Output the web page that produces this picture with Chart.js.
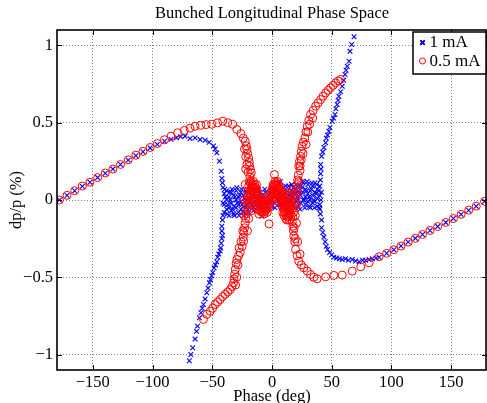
<!DOCTYPE html>
<html>
<head>
<meta charset="utf-8">
<script src="https://cdn.jsdelivr.net/npm/chart.js@4/dist/chart.umd.min.js"></script>
<style>
  html, body { margin: 0; padding: 0; background: #fff; }
</style>
</head>
<body>
<canvas id="chart" width="487" height="403"></canvas>
<script>
// labels
const chartTitle = 'Bunched Longitudinal Phase Space';
const seriesNames = ['1 mA', '0.5 mA'];
const xTicks = [-150, -100, -50, 0, 50, 100, 150];
const yTicks = [-1, -0.5, 0, 0.5, 1];

// 1 mA  ([phase deg, dp/p %]), branch by branch
const blueLeftArm = [[-178,0.0],[-171.6,0.03],[-165.2,0.06],[-158.8,0.088],[-152.4,0.115],[-146,0.145],
  [-139.6,0.173],[-133.2,0.2],[-126.8,0.23],[-120.4,0.258],[-114,0.287],[-108,0.312],[-102,0.337],
  [-96,0.36],[-90,0.38],[-84.5,0.393],[-80,0.403],[-76.5,0.41],[-72.8,0.413],[-68.6,0.397],[-64.4,0.402],
  [-60.2,0.391],[-56,0.387],[-52.6,0.374],[-49,0.35],[-47.5,0.33],[-46.2,0.305],[-44,0.251],[-42.5,0.186],
  [-42,0.14],[-41.5,0.111],[-41,0.08]];
const blueLowerLeft = [[-69.2,-1.04],[-68,-1.0],[-66.4,-0.956],[-64.4,-0.9],[-63.2,-0.85],[-62.4,-0.816],
  [-60.8,-0.762],[-59.5,-0.73],[-58.4,-0.7],[-57.4,-0.676],[-56,-0.64],[-54.6,-0.6],[-53.5,-0.57],
  [-52.4,-0.536],[-51.5,-0.515],[-50.5,-0.49],[-49.6,-0.47],[-48.5,-0.44],[-47.4,-0.42],[-46.2,-0.4],
  [-45.5,-0.37],[-44.5,-0.35],[-43.4,-0.33],[-43,-0.31],[-42.5,-0.28],[-42,-0.25],[-41.4,-0.23],
  [-42,-0.2],[-42,-0.17],[-41.5,-0.13],[-41,-0.1]];
const blueCore = [[-40,0.04],[-40,-0.03],[-40,-0.08],[-38,0.06],[-38,0.0],[-38,-0.06],[-36,0.02],[-36,-0.05],
  [-36,-0.1],[-34,0.05],[-34,-0.02],[-34,-0.07],[-32,0.03],[-32,-0.04],[-32,-0.09],[-30,0.06],[-30,0.0],
  [-30,-0.05],[-28,0.02],[-28,-0.03],[-28,-0.08],[-26,0.05],[-26,-0.01],[-26,-0.06],[-24,0.03],[-24,-0.04],
  [-24,-0.08],[-22,0.06],[-22,0.0],[-22,-0.05],[-20,0.02],[-20,-0.06],[-18,0.05],[-18,-0.02],[-16,0.03],
  [-16,-0.05],[-14,0.06],[-14,-0.01],[-12,0.02],[-12,-0.04],[-10,0.05],[-10,-0.02],[-8.4,-0.105],[-8,0.03],
  [-8,-0.05],[-6,0.07],[-6,0.0],[-4,0.02],[-4,-0.04],[-2,0.05],[-2,-0.01],[0,0.08],[0,0.01],[0,-0.04],
  [2,0.04],[2,-0.02],[4,0.07],[4,0.0],[5.6,0.11],[6,0.03],[6,-0.03],[7,0.12],[8,0.06],[8,0.01],[10,0.08],
  [10,0.02],[10,-0.03],[12,0.05],[12,0.0],[14,0.09],[14,0.03],[14,-0.02],[16,0.06],[16,0.01],[18,0.08],
  [18,0.02],[18,-0.03],[20,0.1],[20,0.04],[20,-0.01],[22,0.06],[22,0.0],[22,-0.04],[24,0.09],[24,0.03],
  [24,-0.02],[26,0.11],[26,0.05],[26,0.0],[28,0.07],[28,0.02],[28,-0.03],[30,0.1],[30,0.04],[30,-0.01],
  [32,0.06],[32,0.0],[32,-0.05],[34,0.09],[34,0.03],[34,-0.02],[36,0.11],[36,0.05],[36,-0.01],[38,0.07],
  [38,0.01],[38,-0.04],[40,0.09],[40,0.03],[40,-0.03],
  [-41,-0.02],[-39,0.02],[-37,-0.03],[-35,0.0],[-33,-0.06],[-31,0.02],[-29,-0.02],[-27,0.03],[-25,-0.03],
  [-23,0.01],[-21,-0.03],[-19,0.01],[-17,-0.03],[-15,0.02],[-13,-0.02],[-11,0.01],[-9,-0.03],[-7,0.02],
  [-5,-0.02],[-3,0.03],[-1,-0.02],[1,0.04],[3,0.02],[5,0.0],[7,0.05],[9,0.03],[11,-0.01],[13,0.06],
  [15,0.0],[17,0.04],[19,0.07],[21,0.02],[23,0.05],[25,0.08],[27,0.0],[29,0.06],[31,0.02],[33,0.07],
  [35,0.0],[37,0.04],[39,0.06],[41,0.0],
  [-39.5,0.07],[-37.5,-0.09],[-35.5,0.05],[-33.5,0.07],[-31.5,-0.1],[-29.5,0.08],[-27.5,-0.1],[-25.5,0.07],
  [-23.5,-0.1],[-21.5,0.05],[-19.5,-0.08],[-17.5,0.07],[-15.5,-0.07],[-11.5,0.07],[-9.5,-0.07],[-5.5,0.05],
  [-3.5,-0.06],[0.5,0.06],[2.5,-0.05],[4.5,0.09],[8.5,-0.04],[11.5,0.09],[13.5,-0.05],[16.5,0.1],
  [19.5,-0.05],[21.5,0.09],[23.5,-0.06],[25.5,0.12],[27.5,-0.05],[29.5,0.12],[31.5,-0.04],[33.5,0.11],
  [35.5,-0.05],[37.5,0.1],[39.5,-0.05],[41.5,0.05]];
const blueUpperRight = [[40.5,0.13],[40.7,0.17],[41,0.2],[40.7,0.23],[41.5,0.283],[42.5,0.31],[43.5,0.34],
  [44.9,0.37],[45.5,0.4],[46.5,0.42],[47.6,0.445],[48.5,0.47],[50.4,0.51],[51.5,0.53],[52.7,0.553],
  [53.5,0.59],[54.6,0.618],[55.3,0.645],[56,0.671],[57.5,0.7],[58.8,0.736],[60,0.775],[61.1,0.812],
  [62,0.84],[63,0.865],[64.5,0.898],[65.3,0.962],[66.7,1.006],[68.7,1.056]];
const blueLowerRight = [[40,-0.06],[40.5,-0.09],[41.5,-0.13],[41.5,-0.18],[42.5,-0.21],[43.4,-0.24],
  [44.5,-0.27],[45.4,-0.3],[46.5,-0.32],[48.2,-0.34],[50,-0.355],[51.8,-0.37],[54,-0.375],[56.5,-0.38],
  [58.8,-0.385],[61.5,-0.38],[64,-0.39],[67.2,-0.385],[70,-0.395],[72.9,-0.4],[76,-0.39],[78.5,-0.39],
  [81.3,-0.385],[84,-0.38],[87,-0.375],[89.7,-0.37]];
const rightTrack = [[96,-0.345],[102,-0.322],[108,-0.298],[114,-0.272],[120,-0.248],[126,-0.223],
  [132.3,-0.197],[138.7,-0.172],[145.5,-0.145],[151.9,-0.12],[158.3,-0.093],[164.7,-0.066],[171,-0.04],
  [178,-0.008]];

// 0.5 mA
const redLeftArm = [[-178,0.0],[-171.6,0.03],[-165.2,0.06],[-158.8,0.09],[-152.4,0.115],[-146,0.145],
  [-139.6,0.175],[-133.2,0.2],[-126.8,0.23],[-120.4,0.26],[-114,0.29],[-108,0.315],[-102,0.34],
  [-96,0.365],[-90,0.39],[-84.5,0.413],[-79,0.435],[-73.4,0.45],[-68.6,0.465],[-64.4,0.477],
  [-59.7,0.483],[-55.1,0.488],[-50.4,0.49],[-45.6,0.499],[-41.2,0.51],[-37,0.5],[-33,0.49],[-29.4,0.456],
  [-26,0.43],[-24,0.4],[-22.4,0.38],[-21.5,0.35],[-21,0.327],[-20.3,0.3],[-19.6,0.273],[-19,0.245],
  [-18.7,0.219],[-18,0.195],[-17.3,0.176],[-23,0.33],[-22,0.28],[-21,0.23],[-20,0.18]];
const redLowerLeft = [[-18.5,0.15],[-19,0.12],[-19.5,0.09],[-20,0.06],[-20,0.03],[-20.5,0.0],[-21,-0.03],
  [-21,-0.06],[-21.5,-0.09],[-22,-0.12],[-22.5,-0.15],[-23,-0.18],[-23.5,-0.21],[-24,-0.24],[-23.8,-0.266],
  [-25,-0.3],[-26.6,-0.34],[-28,-0.36],[-29.4,-0.385],[-30,-0.41],[-30.8,-0.45],[-31.3,-0.48],
  [-31.8,-0.51],[-32.2,-0.536],[-33.5,-0.56],[-35,-0.58],[-37,-0.595],[-39.2,-0.61],[-41.3,-0.625],
  [-43.4,-0.644],[-45.5,-0.66],[-47.6,-0.676],[-49.7,-0.7],[-51.8,-0.72],[-54.6,-0.74],[-57.4,-0.773],
  [-22,0.2],[-22.5,0.1],[-23,0.0],[-23.5,-0.1],[-24.5,-0.2],[-26,-0.27],[-27.5,-0.31],[-19,-0.02],
  [-19.5,-0.12],[-20.5,-0.2],[-28.5,-0.42],[-29.5,-0.5],[-30.5,-0.55]];
const redCore = [[-18,0.11],[-17,0.08],[-16,0.1],[-15,0.06],[-14,0.07],[-13,0.03],[-12,0.04],[-11,0.0],
  [-10,0.01],[-9,-0.03],[-8,-0.02],[-7,-0.05],[-6,-0.03],[-5,-0.04],[-4,-0.01],[-3,0.0],[-2,0.03],
  [-1,0.05],[0,0.06],[1,0.08],[2,0.1],[3,0.09],[4,0.1],[5,0.08],[6,0.06],[7,0.04],[8,0.03],[9,0.0],
  [10,-0.02],[11,-0.04],[12,-0.05],[13,-0.07],[14,-0.05],[15,-0.03],[16,0.0],
  [-17.5,0.03],[-16,0.01],[-14.5,-0.01],[-13,-0.04],[-11.5,-0.06],[-10,-0.07],[-8.5,-0.08],[-6.5,-0.09],
  [-4.5,-0.06],[-3,-0.05],[-1.5,-0.02],[0,0.0],[1.5,0.02],[3,0.04],[4.5,0.03],[6,0.01],[7.5,-0.02],
  [9,-0.05],[10.5,-0.08],[12,-0.1],[13.5,-0.11],[15,-0.09],[16.5,-0.06],[2,0.165],[-2.5,-0.155],
  [-17,0.0],[-16.5,0.06],[-15.5,0.12],[-14.5,0.1],[-13.5,0.08],[-12.5,0.06],[-15,-0.04],[-13.5,0.0],
  [-12,-0.06],[-11,-0.09],[-9.5,0.02],[-8,0.0],[-7,-0.08],[-5.5,-0.07],[-4,-0.08],[-2.5,-0.04],[-1,0.02],
  [0.5,0.04],[1,0.1],[2.5,0.06],[3.5,0.11],[5,0.05],[5.5,0.1],[6.5,0.08],[7,0.0],[8,0.06],[8.5,-0.04],
  [9.5,0.02],[10,-0.1],[11,0.0],[11.5,-0.12],[12.5,-0.02],[13,0.03],[14,-0.1],[15,0.04],[16,-0.1],
  [16.5,0.06],[-18,0.06],[-19,0.02],[-18.5,-0.03],[-17.5,-0.07],
  [-17.5,0.12],[-16.5,0.09],[-15.5,0.08],[-14,0.04],[-13,0.1],[-12.5,0.0],[-11.5,0.03],[-10.5,-0.03],
  [-9,-0.06],[-7.5,-0.03],[-6,-0.06],[-5,-0.01],[-3.5,-0.03],[-2,0.0],[-0.5,0.03],[0.5,0.08],[1.5,0.05],
  [2.5,0.12],[3.5,0.07],[4.5,0.12],[5.5,0.06],[6.5,0.03],[7.5,0.06],[8.5,0.01],[9,-0.08],[10,-0.05],
  [11,-0.07],[12,-0.02],[13,-0.05],[14,0.0],[15,-0.06],[16,0.03],[17,-0.04],[14.5,-0.13],[12.5,-0.13]];
const redRightArm = [[57.5,0.78],[55.4,0.77],[53.3,0.758],[51.2,0.742],[49.1,0.726],[47,0.71],[44.9,0.693],
  [42.8,0.672],[40.7,0.65],[38.6,0.628],[36.5,0.607],[34.4,0.58],[32.3,0.553],[30.8,0.515],[29.4,0.477],
  [28.4,0.44],[27.5,0.402],[26.3,0.375],[25.2,0.348],[24.5,0.315],[23.9,0.283],[23,0.25],[22.4,0.219],
  [23.5,0.19],[22,0.16],[21.5,0.13],[21,0.1],[20.5,0.07],[20,0.04],[19.5,0.01],[19,-0.02],[18.5,-0.05],
  [18,-0.08],[17.5,-0.11],[17,-0.14],[17.5,-0.17],[18,-0.2],[18.2,-0.234],[19,-0.27],[19.7,-0.32],
  [21,-0.36],[22.4,-0.396],[24.5,-0.42],[26.6,-0.439],[29.5,-0.46],[32.3,-0.482],[35,-0.5],[37.8,-0.51],
  [44.9,-0.497],[51.8,-0.488],[58.8,-0.486],[67.2,-0.46],[74.3,-0.432],[81.3,-0.406],[89.7,-0.367],
  [24.5,0.26],[23.5,0.22],[22.5,0.12],[21.5,0.05],[20.5,-0.03],[19.5,-0.1],[18.5,-0.18],[19.5,-0.25],
  [26,0.3],[28.5,0.36],[30,0.44],[31.5,0.49],[34,0.53],[20.5,-0.15],[21.5,-0.27],[23.5,-0.35]];

const toPts = arr => arr.map(p => ({ x: p[0], y: p[1] }));
const blueData = toPts([].concat(blueLeftArm, blueLowerLeft, blueCore, blueUpperRight, blueLowerRight, rightTrack));
const redData = toPts([].concat(redLeftArm, redLowerLeft, redCore, redRightArm, rightTrack));

const serif = 'Liberation Serif, Times New Roman, serif';
const fmt = v => String(v).replace('-', '\u2212');

// MATLAB-ish box, inward ticks and legend
const boxPlugin = {
  id: 'box',
  afterDraw(chart) {
    const { ctx, chartArea: a, scales } = chart;
    ctx.save();
    ctx.strokeStyle = '#000';
    ctx.lineWidth = 1;
    ctx.beginPath();
    xTicks.forEach(v => {
      const px = Math.round(scales.x.getPixelForValue(v)) + 0.5;
      ctx.moveTo(px, a.top); ctx.lineTo(px, a.top + 5);
      ctx.moveTo(px, a.bottom); ctx.lineTo(px, a.bottom - 5);
    });
    yTicks.forEach(v => {
      const py = Math.round(scales.y.getPixelForValue(v)) + 0.5;
      ctx.moveTo(a.left, py); ctx.lineTo(a.left + 5, py);
      ctx.moveTo(a.right, py); ctx.lineTo(a.right - 5, py);
    });
    ctx.stroke();
    ctx.lineWidth = 1.6;
    ctx.strokeRect(a.left, a.top, a.right - a.left - 1, a.bottom - a.top);

    // legend
    const lx = 413, ly = 32, lw = 73, lh = 42;
    ctx.fillStyle = '#fff';
    ctx.fillRect(lx, ly, lw, lh);
    ctx.lineWidth = 1.5;
    ctx.strokeRect(lx, ly, lw, lh);
    Chart.helpers.drawPoint(ctx, { pointStyle: 'crossRot', radius: 3, borderWidth: 1 }, 422.5, 42.5);
    ctx.strokeStyle = '#0000ff';
    ctx.stroke();
    ctx.strokeStyle = '#ff0000';
    ctx.lineWidth = 1;
    ctx.beginPath();
    ctx.arc(422.5, 61, 3, 0, Math.PI * 2);
    ctx.stroke();
    ctx.fillStyle = '#000';
    ctx.font = '17px ' + serif;
    ctx.textBaseline = 'middle';
    ctx.textAlign = 'left';
    ctx.fillText(seriesNames[0], 429.5, 43);
    ctx.fillText(seriesNames[1], 429.5, 62);
    ctx.restore();
  }
};

new Chart(document.getElementById('chart'), {
  type: 'scatter',
  data: {
    datasets: [
      { label: seriesNames[0], data: blueData, order: 2, pointStyle: 'crossRot', pointRadius: 3.3,
        borderColor: '#0000ff', backgroundColor: '#0000ff', borderWidth: 1.1 },
      { label: seriesNames[1], data: redData, order: 1, pointStyle: 'circle', pointRadius: 4,
        borderColor: '#ff0000', backgroundColor: 'rgba(0,0,0,0)', borderWidth: 1 }
    ]
  },
  options: {
    responsive: false,
    animation: false,
    layout: { padding: 0, autoPadding: false },
    plugins: {
      legend: { display: false },
      tooltip: { enabled: false },
      title: {
        display: true, text: chartTitle, color: '#000', fullSize: false,
        font: { family: serif, size: 16.5, weight: 'normal' },
        padding: { top: 3.5, bottom: 6.7 }
      }
    },
    scales: {
      x: {
        type: 'linear', min: -180, max: 180,
        afterBuildTicks: s => { s.ticks = xTicks.map(v => ({ value: v })); },
        afterFit: s => { s.height = 33; },
        ticks: { color: '#000', font: { family: serif, size: 16.5 }, padding: 3, callback: fmt, maxRotation: 0 },
        grid: { color: 'rgba(0,0,0,0.5)', drawTicks: false, lineWidth: 1 },
        border: { display: false, dash: [1, 2] },
        title: { display: true, text: 'Phase (deg)', color: '#000',
          font: { family: serif, size: 16.5 }, padding: { top: 0, bottom: -3.4 } }
      },
      y: {
        type: 'linear', min: -1.1, max: 1.1,
        afterBuildTicks: s => { s.ticks = yTicks.map(v => ({ value: v })); },
        afterFit: s => { s.width = 57; },
        ticks: { color: '#000', font: { family: serif, size: 16.5 }, padding: 4, callback: fmt },
        grid: { color: 'rgba(0,0,0,0.5)', drawTicks: false, lineWidth: 1 },
        border: { display: false, dash: [1, 2] },
        title: { display: true, text: 'dp/p (%)', color: '#000',
          font: { family: serif, size: 16.5 }, padding: { top: 6.6, bottom: 0 } }
      }
    }
  },
  plugins: [boxPlugin]
});
</script>
</body>
</html>
